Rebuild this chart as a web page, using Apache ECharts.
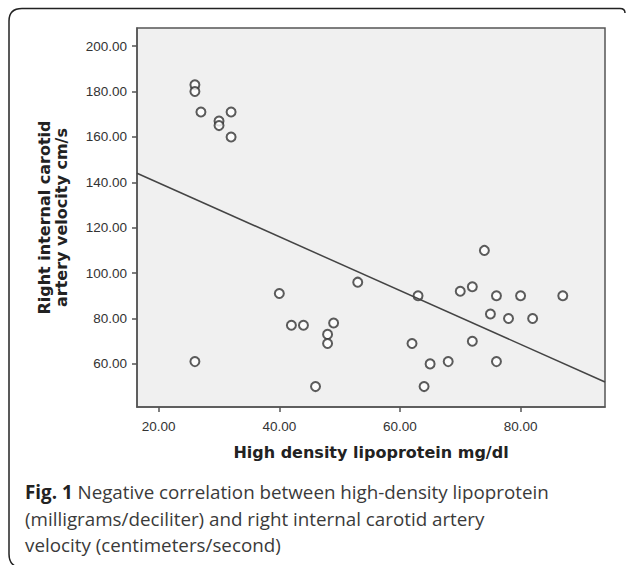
<!DOCTYPE html>
<html>
<head>
<meta charset="utf-8">
<script src="https://cdn.jsdelivr.net/npm/echarts@6/dist/echarts.min.js"></script>
<style>
  html, body { margin: 0; padding: 0; background: #fff; }
  #chart { width: 627px; height: 565px; }
</style>
</head>
<body>
<div id="chart"></div>
<script>
// HDL (mg/dl) vs right internal carotid artery velocity (cm/s)
var hdl = [26, 26, 27, 30, 30, 32, 32,
           40, 42, 44, 49, 48, 48, 26, 46,
           53, 74, 63, 70, 72, 76, 80, 87, 75, 78, 82, 62, 72, 65, 68, 76, 64];
var velocity = [183, 180, 171, 167, 165, 171, 160,
                91, 77, 77, 78, 73, 69, 61, 50,
                96, 110, 90, 92, 94, 90, 90, 90, 82, 80, 80, 69, 70, 60, 61, 61, 50];

// fit line end points
var fitX = [16.4, 94];
var fitY = [144, 52];

var xTicks = [20, 40, 60, 80];
var yTicks = [60, 80, 100, 120, 140, 160, 180, 200];

var points = hdl.map(function(v, i) { return [v, velocity[i]]; });
var fitLine = fitX.map(function(v, i) { return [v, fitY[i]]; });

var tickFont = { color: '#333', fontSize: 13.5, fontFamily: 'Liberation Sans, Arial, sans-serif' };
var nameFont = { color: '#222', fontSize: 16, fontWeight: 'bold', fontFamily: 'DejaVu Sans, sans-serif', lineHeight: 17 };
var frame = { fill: null, stroke: '#222', lineWidth: 1.5 };

var chart = echarts.init(document.getElementById('chart'), null, { renderer: 'svg' });
chart.setOption({
  animation: false,
  backgroundColor: '#fff',
  title: {
    left: 25,
    top: 479,
    padding: 0,
    text: '{b|Fig. 1} Negative correlation between high-density lipoprotein\n(milligrams/deciliter) and right internal carotid artery\nvelocity (centimeters/second)',
    textStyle: {
      color: '#3a3a3a',
      fontSize: 18.8,
      fontWeight: 'normal',
      fontFamily: 'Open Sans, sans-serif',
      lineHeight: 26.5,
      rich: {
        b: { fontWeight: 'bold', fontSize: 18.8, fontFamily: 'Open Sans, sans-serif', color: '#222', lineHeight: 26.5 }
      }
    }
  },
  grid: {
    left: 137, right: 22, top: 28, bottom: 158,
    show: true,
    backgroundColor: '#f0f0f0',
    borderColor: '#555',
    borderWidth: 1.5
  },
  xAxis: {
    type: 'value',
    min: fitX[0],
    max: fitX[1],
    name: 'High density lipoprotein mg/dl',
    nameLocation: 'middle',
    nameGap: 37,
    nameTextStyle: nameFont,
    axisLine: { show: true, lineStyle: { color: '#555', width: 1.5 } },
    axisTick: { show: true, length: 5, customValues: xTicks, lineStyle: { color: '#555', width: 1.5 } },
    axisLabel: Object.assign({ margin: 12, customValues: xTicks, formatter: function(v) { return v.toFixed(2); } }, tickFont),
    splitLine: { show: false }
  },
  yAxis: {
    type: 'value',
    min: 41,
    max: 208,
    name: 'Right internal carotid\nartery velocity cm/s',
    nameLocation: 'middle',
    nameGap: 67,
    nameRotate: 90,
    nameTextStyle: nameFont,
    axisLine: { show: true, lineStyle: { color: '#555', width: 1.5 } },
    axisTick: { show: true, length: 5, customValues: yTicks, lineStyle: { color: '#555', width: 1.5 } },
    axisLabel: Object.assign({ margin: 10, customValues: yTicks, formatter: function(v) { return v.toFixed(2); } }, tickFont),
    splitLine: { show: false }
  },
  series: [
    {
      type: 'line',
      data: fitLine,
      symbol: 'none',
      lineStyle: { color: '#444', width: 1.5 },
      silent: true
    },
    {
      type: 'scatter',
      data: points,
      symbol: 'emptyCircle',
      symbolSize: 9,
      itemStyle: { color: '#333', borderColor: '#333', borderWidth: 1.6 }
    }
  ],
  // page frame with rounded corners (top and left sides only)
  graphic: [
    { type: 'line', shape: { x1: 22, y1: 8.5, x2: 620, y2: 8.5 }, style: frame },
    { type: 'bezierCurve', shape: { x1: 620, y1: 8.5, cpx1: 625, cpy1: 8.5, x2: 625, y2: 13 }, style: frame },
    { type: 'bezierCurve', shape: { x1: 22, y1: 8.5, cpx1: 9, cpy1: 8.5, x2: 9, y2: 21 }, style: frame },
    { type: 'line', shape: { x1: 9, y1: 21, x2: 9, y2: 554 }, style: frame },
    { type: 'bezierCurve', shape: { x1: 9, y1: 554, cpx1: 9, cpy1: 563, x2: 15, y2: 566 }, style: frame }
  ]
});
</script>
</body>
</html>
